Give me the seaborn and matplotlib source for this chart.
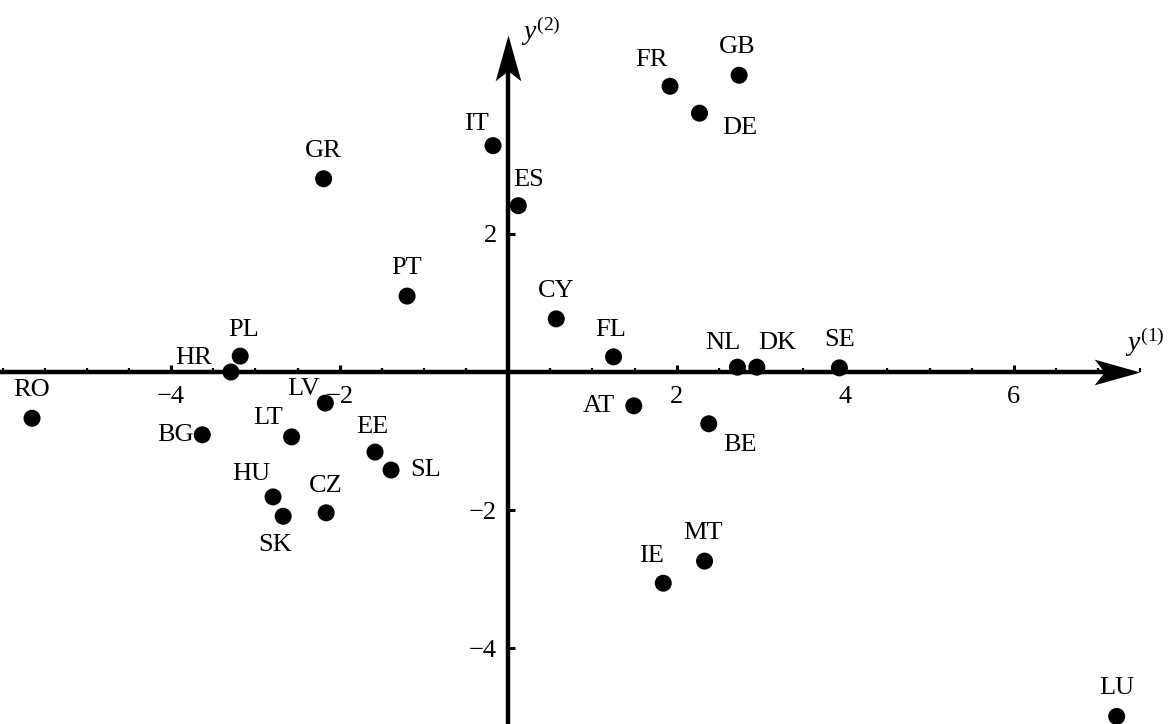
import numpy as np
import pandas as pd
import matplotlib
matplotlib.use("Agg")
import matplotlib.pyplot as plt
from matplotlib.ticker import FixedLocator, MultipleLocator
import seaborn as sns

# --- Data ---
countries = ["RO", "BG", "HR", "PL", "LV", "LT", "HU", "SK", "CZ", "EE",
             "SL", "GR", "PT", "IT", "ES", "CY", "FR", "GB", "DE", "FL",
             "AT", "BE", "NL", "DK", "SE", "IE", "MT", "LU"]
y1 = [-5.65, -3.63, -3.29, -3.18, -2.17, -2.57, -2.79, -2.67, -2.16, -1.58,
      -1.39, -2.19, -1.20, -0.18, 0.12, 0.57, 1.92, 2.74, 2.27, 1.25,
      1.49, 2.38, 2.72, 2.95, 3.93, 1.84, 2.33, 7.22]
y2 = [-0.67, -0.91, 0.00, 0.23, -0.45, -0.94, -1.81, -2.09, -2.04, -1.16,
      -1.42, 2.80, 1.10, 3.28, 2.41, 0.77, 4.14, 4.30, 3.75, 0.22,
      -0.49, -0.75, 0.07, 0.07, 0.06, -3.06, -2.74, -4.99]
x_ticks = [-4, -2, 2, 4, 6]
y_ticks = [-4, -2, 2]

# label offsets in pixels (dx, dy) relative to each point
offsets = {
    "RO": (0, 28), "BG": (-27, 0), "HR": (-37, 14), "PL": (3, 26),
    "LV": (-22, 14), "LT": (-23, 19), "HU": (-22, 23), "SK": (-8, -29),
    "CZ": (0, 27), "EE": (-3, 25), "SL": (35, 0), "GR": (0, 28),
    "PT": (0, 28), "IT": (-16, 22), "ES": (10, 26), "CY": (0, 28),
    "FR": (-19, 26), "GB": (-2, 28), "DE": (40, -15), "FL": (-3, 27),
    "AT": (-35, 0), "BE": (31, -21), "NL": (-15, 24), "DK": (20, 24),
    "SE": (0, 28), "IE": (-12, 27), "MT": (-2, 28), "LU": (0, 28),
}

df = pd.DataFrame({"country": countries, "y1": y1, "y2": y2})

sns.set_style("white")
plt.rcParams["font.family"] = ["Liberation Serif", "DejaVu Serif"]
plt.rcParams["mathtext.fontset"] = "custom"
plt.rcParams["mathtext.rm"] = "Liberation Serif"
plt.rcParams["mathtext.it"] = "Liberation Serif:italic"
plt.rcParams["text.color"] = "black"

fig = plt.figure(figsize=(11.74, 7.24), dpi=100)
ax = fig.add_axes([0, 0, 1, 1])

sns.scatterplot(data=df, x="y1", y="y2", color="black", s=150,
                edgecolor="none", ax=ax, zorder=5)

for c, a, b in zip(countries, y1, y2):
    dx, dy = offsets[c]
    ax.annotate(c, (a, b), xytext=(dx, dy), textcoords="offset pixels",
                ha="center", va="center", fontsize=19, color="black")

ax.set_xlim(-6.03, 7.90)
ax.set_ylim(-5.10, 5.39)

# --- axes through origin ---
for s in ["top", "right"]:
    ax.spines[s].set_visible(False)
for s in ["left", "bottom"]:
    ax.spines[s].set_position("zero")
    ax.spines[s].set_linewidth(3.2)
    ax.spines[s].set_color("black")
ax.spines["bottom"].set_bounds(-6.03, 7.2)
ax.spines["left"].set_bounds(-5.10, 4.6)

ax.xaxis.set_major_locator(FixedLocator(x_ticks))
ax.xaxis.set_minor_locator(MultipleLocator(0.5))
ax.yaxis.set_major_locator(FixedLocator(y_ticks))
ax.set_xticklabels([f"\u2212{abs(t)}" if t < 0 else str(t) for t in x_ticks])
ax.set_yticklabels([f"\u2212{abs(t)}" if t < 0 else str(t) for t in y_ticks])
ax.tick_params(axis="x", which="both", bottom=True, direction="in",
               colors="black")
ax.tick_params(axis="x", which="major", length=5, width=2.2,
               labelsize=19, pad=10)
ax.tick_params(axis="x", which="minor", length=3.2, width=1.6)
ax.tick_params(axis="y", which="major", left=True, direction="in",
               length=5, width=2.2, labelsize=19, pad=8, colors="black")
ax.set_xlabel("")
ax.set_ylabel("")

# arrowheads (slim, concave back)
head_x = [(0, 0), (-1, 0.28), (-0.78, 0), (-1, -0.28), (0, 0)]
head_y = [(0, 0), (0.28, -1), (0, -0.78), (-0.28, -1), (0, 0)]
ax.plot([7.50], [0], marker=head_x, markersize=66, color="black",
        markeredgewidth=0, clip_on=False, zorder=6)
ax.plot([0], [4.88], marker=head_y, markersize=66, color="black",
        markeredgewidth=0, clip_on=False, zorder=6)

ax.text(7.32, 0.43, r"$y^{(1)}$", fontsize=20, ha="left", va="center")
ax.text(0.15, 4.94, r"$y^{(2)}$", fontsize=20, ha="left", va="center")

plt.savefig("out.png", dpi=100)
